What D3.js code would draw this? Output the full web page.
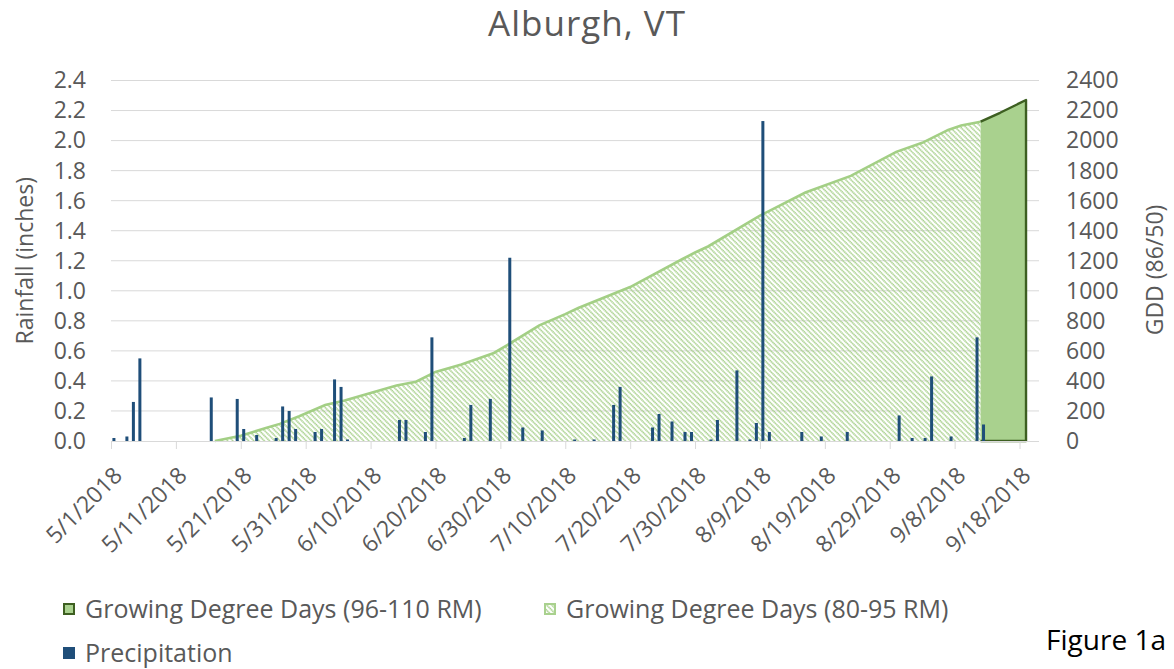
<!DOCTYPE html>
<html>
<head>
<meta charset="utf-8">
<script src="https://cdn.jsdelivr.net/npm/d3@7"></script>
<style>
  body { margin: 0; background: #fff; }
  svg text { font-family: "Open Sans", sans-serif; fill: #595959; }
</style>
</head>
<body>
<div id="chart"></div>
<script>
// Daily rainfall (inches)
const precipDates = ["5/1","5/3","5/4","5/5","5/16","5/20","5/21","5/23","5/26","5/27","5/28","5/29",
  "6/1","6/2","6/4","6/5","6/6","6/14","6/15","6/18","6/19","6/24","6/25","6/28",
  "7/1","7/3","7/6","7/11","7/14","7/17","7/18","7/23","7/24","7/26","7/28","7/29",
  "8/1","8/2","8/5","8/7","8/8","8/9","8/10","8/15","8/18","8/22","8/30",
  "9/1","9/3","9/4","9/7","9/11","9/12"];
const precipValues = [0.02,0.03,0.26,0.55,0.29,0.28,0.08,0.04,0.02,0.23,0.20,0.08,
  0.06,0.08,0.41,0.36,0.01,0.14,0.14,0.06,0.69,0.02,0.24,0.28,
  1.22,0.09,0.07,0.01,0.01,0.24,0.36,0.09,0.18,0.13,0.06,0.06,
  0.01,0.14,0.47,0.01,0.12,2.13,0.06,0.06,0.03,0.06,0.17,
  0.02,0.02,0.43,0.03,0.69,0.11];

// Cumulative GDD, 80-95 RM season
const gddEarlyDates = ["5/17","5/21","5/25","5/27","5/30","6/3","6/6","6/10","6/14","6/17","6/20","6/24",
  "6/29","7/1","7/6","7/10","7/12","7/20","7/28","7/30","8/1","8/9","8/16","8/23","8/30","9/3","9/7","9/9","9/12"];
const gddEarlyValues = [0,35,88,114,165,240,269,320,370,395,460,510,
  586,637,770,845,885,1025,1210,1255,1295,1500,1654,1765,1925,1985,2071,2100,2126];

// Cumulative GDD, 96-110 RM extension
const gddLateDates = ["9/12","9/15","9/19"];
const gddLateValues = [2126,2185,2270];

const xTickDates = ["5/1","5/11","5/21","5/31","6/10","6/20","6/30","7/10","7/20","7/30",
  "8/9","8/19","8/29","9/8","9/18"];
const leftTicks = [0,0.2,0.4,0.6,0.8,1.0,1.2,1.4,1.6,1.8,2.0,2.2,2.4];
const rightTicks = [0,200,400,600,800,1000,1200,1400,1600,1800,2000,2200,2400];

const parse = s => d3.timeParse("%m/%d/%Y")(s + "/2018");

const width = 1174, height = 669;
const plot = {left: 111, right: 1039, top: 80.5, bottom: 441};
const fs = 23;

const svg = d3.select("#chart").append("svg")
  .attr("width", width)
  .attr("height", height);

const x = d3.scaleTime()
  .domain([parse("5/1"), parse("9/21")])
  .range([plot.left, plot.right]);
const yL = d3.scaleLinear().domain([0, 2.4]).range([plot.bottom, plot.top]);
const yR = d3.scaleLinear().domain([0, 2400]).range([plot.bottom, plot.top]);
const dayW = x(parse("5/2")) - x(parse("5/1"));

// hatch pattern for the 80-95 RM area
const defs = svg.append("defs");
const pat = defs.append("pattern")
  .attr("id", "hatch")
  .attr("patternUnits", "userSpaceOnUse")
  .attr("width", 3.7)
  .attr("height", 3.7)
  .attr("patternTransform", "rotate(-45)");
pat.append("line")
  .attr("x1", 1).attr("y1", 0).attr("x2", 1).attr("y2", 3.7)
  .attr("stroke", "#9ecb7f")
  .attr("stroke-width", 1.5)
  .attr("stroke-dasharray", "1.4 0.45");

// gridlines
svg.append("g").selectAll("line")
  .data(leftTicks.slice(1))
  .join("line")
  .attr("x1", plot.left).attr("x2", plot.right)
  .attr("y1", d => yL(d)).attr("y2", d => yL(d))
  .attr("stroke", "#d9d9d9")
  .attr("stroke-width", 1);

// GDD areas
const early = gddEarlyDates.map((d, i) => ({date: parse(d), v: gddEarlyValues[i]}));
const late = gddLateDates.map((d, i) => ({date: parse(d), v: gddLateValues[i]}));

const area = d3.area()
  .x(d => x(d.date))
  .y0(yR(0))
  .y1(d => yR(d.v));
const line = d3.line()
  .x(d => x(d.date))
  .y(d => yR(d.v));

svg.append("path")
  .datum(early)
  .attr("d", area)
  .attr("fill", "url(#hatch)");
svg.append("path")
  .datum(early)
  .attr("d", line)
  .attr("fill", "none")
  .attr("stroke", "#a3cf85")
  .attr("stroke-width", 2.6);

svg.append("path")
  .datum(late)
  .attr("d", area)
  .attr("fill", "#a9d18e");
// outline: top, right side and bottom only
svg.append("path")
  .attr("d", line(late) + `V${yR(0)}H${x(late[0].date)}`)
  .attr("fill", "none")
  .attr("stroke", "#3d5f21")
  .attr("stroke-width", 2.4)
  .attr("stroke-linejoin", "round");

// precipitation bars
const precip = precipDates.map((d, i) => ({date: parse(d), v: precipValues[i]}));
const barW = 3;
svg.append("g").selectAll("rect")
  .data(precip)
  .join("rect")
  .attr("x", d => x(d.date) + dayW * 0.45 - barW / 2)
  .attr("y", d => yL(d.v))
  .attr("width", barW)
  .attr("height", d => yL(0) - yL(d.v))
  .attr("fill", "#1f4e79");

// x axis
const xAxis = d3.axisBottom(x)
  .tickValues(xTickDates.map(parse))
  .tickSize(8)
  .tickFormat(d3.timeFormat("%-m/%-d/%Y"));
const gx = svg.append("g")
  .attr("transform", `translate(0,${plot.bottom})`)
  .call(xAxis);
gx.select(".domain").attr("stroke", "#d9d9d9").attr("d", `M${plot.left},0.5H${plot.right}`);
gx.selectAll(".tick line").attr("stroke", "#d9d9d9");
gx.selectAll(".tick text")
  .attr("font-size", fs)
  .attr("fill", "#595959")
  .attr("text-anchor", "end")
  .attr("dy", 0)
  .attr("y", 0)
  .attr("transform", "translate(12,36) rotate(-45)");

// left axis
const gl = svg.append("g")
  .attr("transform", `translate(${plot.left - 25},0)`)
  .call(d3.axisLeft(yL).tickValues(leftTicks).tickSize(0).tickFormat(d3.format(".1f")));
gl.select(".domain").remove();
gl.selectAll("text").attr("font-size", fs).attr("fill", "#595959").attr("x", 0);

// right axis
const gr = svg.append("g")
  .attr("transform", `translate(${plot.right + 27},0)`)
  .call(d3.axisRight(yR).tickValues(rightTicks).tickSize(0).tickFormat(d3.format("d")));
gr.select(".domain").remove();
gr.selectAll("text").attr("font-size", fs).attr("fill", "#595959").attr("x", 0);

// axis titles
svg.append("text")
  .attr("transform", `translate(33,${(plot.top + plot.bottom) / 2}) rotate(-90)`)
  .attr("text-anchor", "middle")
  .attr("font-size", fs)
  .text("Rainfall (inches)");
svg.append("text")
  .attr("transform", `translate(1163,270) rotate(-90)`)
  .attr("text-anchor", "middle")
  .attr("font-size", fs)
  .text("GDD (86/50)");

// title
svg.append("text")
  .attr("x", 587).attr("y", 36)
  .attr("text-anchor", "middle")
  .attr("font-size", 35)
  .attr("letter-spacing", 1)
  .text("Alburgh, VT");

// legend
const legend = [
  {label: "Growing Degree Days (96-110 RM)", x: 63, y: 609, type: "late"},
  {label: "Growing Degree Days (80-95 RM)", x: 544, y: 609, type: "early"},
  {label: "Precipitation", x: 63, y: 653, type: "precip"}
];
const lg = svg.append("g").selectAll("g")
  .data(legend)
  .join("g")
  .attr("transform", d => `translate(${d.x},${d.y})`);
lg.append("rect")
  .attr("x", d => d.type === "precip" ? 0 : 1)
  .attr("y", d => d.type === "precip" ? -6 : -5)
  .attr("width", d => d.type === "precip" ? 12 : 10)
  .attr("height", d => d.type === "precip" ? 12 : 10)
  .attr("fill", d => d.type === "precip" ? "#1f4e79" : d.type === "late" ? "#a9d18e" : "url(#hatch)")
  .attr("stroke", d => d.type === "late" ? "#3d5f21" : d.type === "early" ? "#a9d18e" : "none")
  .attr("stroke-width", 2);
lg.append("text")
  .attr("x", 22)
  .attr("y", 0)
  .attr("dy", "0.35em")
  .attr("font-size", 25)
  .text(d => d.label);

svg.append("text")
  .attr("x", 1166).attr("y", 650)
  .attr("text-anchor", "end")
  .attr("font-size", 28)
  .style("fill", "#000")
  .text("Figure 1a");
</script>
</body>
</html>
